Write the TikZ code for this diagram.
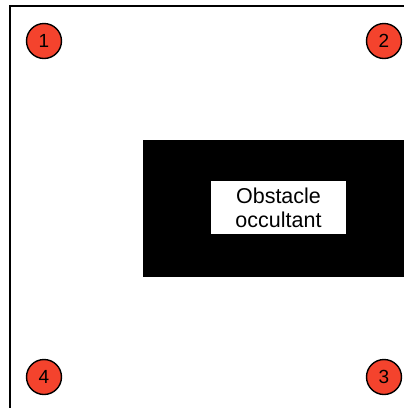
\documentclass[tikz,border=0pt]{standalone}
\usepackage{fontspec}
\setmainfont{Liberation Sans}
\usepackage{xcolor}
\usepackage{tikz}
\usetikzlibrary{positioning}
\definecolor{SPOTred}{HTML}{F4432D}
\tikzset{
  spot/.style={circle, draw=black, line width=1.4pt, fill=SPOTred, minimum size=35pt, inner sep=0pt, font=\fontsize{19}{21}\selectfont},
  wall/.style={draw=black, line width=2pt},
  blocker/.style={fill=black, draw=none},
  tag/.style={fill=white, align=center, minimum width=135pt, minimum height=53pt, inner sep=0pt, font=\fontsize{21.5}{24}\selectfont}
}
\begin{document}
\begin{tikzpicture}[x=1pt, y=-1pt]
\useasboundingbox (0,0) rectangle (404,408);
\clip (0,0) rectangle (404,408);
% room outline and obstacle
\draw[wall] (10,6) rectangle (430,430);
\fill[blocker] (143,140) rectangle (430,277);
\node[tag] (obst) at (278.5,207.5) {Obstacle\\occultant};
% numbered positions
\node[spot] (p1) at (44,41) {1};
\node[spot] (p2) at (384,41) {2};
\node[spot] (p3) at (384,377) {3};
\node[spot] (p4) at (44,377) {4};
\end{tikzpicture}
\end{document}
